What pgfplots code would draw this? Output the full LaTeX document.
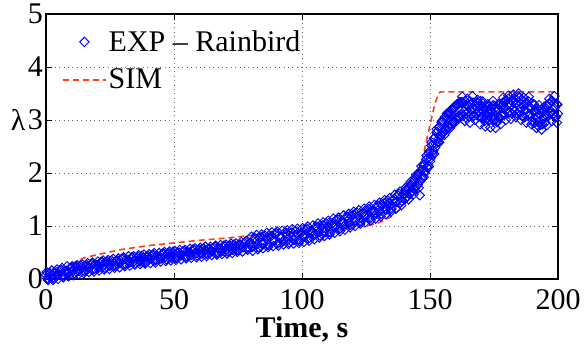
\documentclass[border=0pt]{standalone}
\usepackage{fontspec}
\setmainfont{Liberation Serif}
\usepackage{pgfplots}
\pgfplotsset{compat=1.18}
\definecolor{simred}{RGB}{255,60,15}
\definecolor{expblue}{RGB}{0,0,255}
\newcommand{\bigfont}{\fontsize{30bp}{34bp}\selectfont}
\newcommand{\legfont}{\fontsize{30bp}{34bp}\selectfont}
\pgfplotsset{
  expstyle/.style={only marks, mark=square, mark size=3.3bp, color=expblue, mark options={rotate=45, line width=0.95bp, fill=none}},
  explegend/.style={legend image code/.code={\draw[mark repeat=2,mark phase=2,##1] plot coordinates {(0bp,0bp)(21.5bp,0bp)(43bp,0bp)};}},
  simlegend/.style={legend image code/.code={\draw[##1] (0bp,0bp) -- (43bp,0bp);}},
}
\begin{document}
\begin{tikzpicture}
\begin{axis}[
  scale only axis,
  width=512bp, height=265bp,
  xmin=0, xmax=200, ymin=0, ymax=5,
  xtick={0,50,100,150,200},
  ytick={0,1,2,3,4,5},
  /pgf/number format/assume math mode=true,
  tick label style={font=\bigfont, inner sep=0pt},
  xticklabel style={yshift=-10bp},
  yticklabel style={xshift=-3bp},
  axis line style={line width=1.2bp, black},
  tick style={line width=0.8bp, black},
  major tick length=6bp,
  tick align=inside,
  grid=major,
  grid style={line width=0.6bp, color=black!60, dash pattern=on 0.8bp off 3.6bp},
  clip=false,
  xlabel={\textbf{Time, s}},
  xlabel style={font=\bigfont, inner sep=0pt, at={(axis description cs:0.5,-0.222)}, anchor=base},
  ylabel={λ},
  ylabel style={font=\bigfont, inner sep=0pt, rotate=-90, at={(axis description cs:-0.04,0.6)}, anchor=east},
  legend style={draw=none, fill=none, font=\legfont, at={(axis description cs:0.031,0.945)}, anchor=north west, inner sep=0pt, row sep=12bp, nodes={inner sep=2bp}},
  legend cell align=left,
]
\addplot[expstyle, explegend]
coordinates {
(0,0.08)(1,0.00)(2,0.08)(3,0.01)(4,0.13)(5,0.08)(6,0.17)(7,0.07)(8,0.15)(9,0.12)
(10,0.21)(11,0.11)(12,0.23)(13,0.15)(14,0.22)(15,0.15)(16,0.26)(17,0.21)(18,0.29)(19,0.19)
(20,0.26)(21,0.23)(22,0.32)(23,0.21)(24,0.33)(25,0.25)(26,0.32)(27,0.25)(28,0.35)(29,0.30)
(30,0.39)(31,0.29)(32,0.35)(33,0.32)(34,0.40)(35,0.30)(36,0.42)(37,0.33)(38,0.40)(39,0.32)
(40,0.43)(41,0.38)(42,0.46)(43,0.36)(44,0.42)(45,0.39)(46,0.48)(47,0.37)(48,0.49)(49,0.40)
(50,0.47)(51,0.40)(52,0.50)(53,0.45)(54,0.53)(55,0.43)(56,0.50)(57,0.46)(58,0.55)(59,0.44)
(60,0.56)(61,0.48)(62,0.54)(63,0.47)(64,0.57)(65,0.52)(66,0.61)(67,0.50)(68,0.57)(69,0.53)
(70,0.62)(71,0.52)(72,0.63)(73,0.55)(74,0.61)(75,0.54)(76,0.65)(77,0.60)(78,0.70)(79,0.60)
(80,0.68)(81,0.62)(82,0.76)(83,0.60)(84,0.79)(85,0.66)(86,0.76)(87,0.64)(88,0.81)(89,0.72)
(90,0.86)(91,0.69)(92,0.79)(93,0.73)(94,0.86)(95,0.69)(96,0.88)(97,0.74)(98,0.84)(99,0.72)
(100,0.88)(101,0.80)(102,0.94)(103,0.78)(104,0.89)(105,0.84)(106,0.98)(107,0.82)(108,1.01)(109,0.88)
(110,0.99)(111,0.88)(112,1.06)(113,0.98)(114,1.12)(115,0.96)(116,1.07)(117,1.03)(118,1.17)(119,1.02)
(120,1.21)(121,1.08)(122,1.19)(123,1.08)(124,1.26)(125,1.18)(126,1.32)(127,1.17)(128,1.28)(129,1.23)
(130,1.38)(131,1.23)(132,1.43)(133,1.31)(134,1.43)(135,1.32)(136,1.52)(137,1.45)(138,1.61)(139,1.47)
(140,1.60)(140.5,1.68)(141,1.55)(141.5,1.72)(142,1.60)(142.5,1.78)(143,1.65)(143.5,1.84)(144,1.70)(144.5,1.92)
(145,1.76)(145.5,1.97)(146,1.58)(146.5,2.05)(147,1.90)(147.5,2.14)(148,2.00)(148.5,2.25)(149,2.10)(149.5,2.37)
(150,2.22)(150.5,2.52)(151,2.36)(151.5,2.65)(152,2.48)(152.5,2.76)(153,2.58)(153.5,2.86)(154,2.68)(154.5,2.95)
(155,2.76)(155.5,3.02)(156,2.80)(156.5,3.06)(157,2.86)(157.5,3.12)(158,2.90)(158.5,3.18)(159,2.95)(159.5,3.22)
(160,3.02)(160.5,3.28)(161,3.05)(161.5,3.32)(162,3.10)(162.5,3.34)(163,3.08)(163.5,3.26)(164,3.05)(164.5,3.30)
(165,3.15)(165.5,3.35)(166,3.10)(166.5,3.22)(167,3.07)(167.5,3.28)(168,3.12)(168.5,3.34)(169,3.08)(169.5,3.26)
(170,3.05)(170.5,3.25)(171,3.10)(171.5,3.27)(172,3.02)(172.5,3.14)(173,2.99)(173.5,3.20)(174,3.04)(174.5,3.26)
(175,3.00)(175.5,3.18)(176,2.97)(176.5,3.22)(177,3.05)(177.5,3.30)(178,3.08)(178.5,3.27)(179,3.10)(179.5,3.35)
(180,3.20)(180.5,3.40)(181,3.15)(181.5,3.27)(182,3.12)(182.5,3.33)(183,3.17)(183.5,3.39)(184,3.13)(184.5,3.45)
(185,3.15)(185.5,3.31)(186,3.08)(186.5,3.26)(187,3.05)(187.5,3.30)(188,3.15)(188.5,3.35)(189,3.10)(189.5,3.22)
(190,3.00)(190.5,3.15)(191,2.95)(191.5,3.16)(192,2.90)(192.5,3.19)(193,2.97)(193.5,3.20)(194,2.92)(194.5,3.07)
(195,2.95)(195.5,3.28)(196,3.06)(196.5,3.30)(197,3.12)(197.5,3.36)(198,3.10)(198.5,3.22)(199,3.05)(199.5,3.30)
(200,3.12)
};
\addlegendentry{EXP -- Rainbird}
\addplot[expstyle, forget plot]
coordinates {
(0.5,0.01)(1.5,0.11)(2.5,0.02)(3.5,0.11)(4.5,0.08)(5.5,0.16)(6.5,0.06)(7.5,0.15)(8.5,0.10)(9.5,0.21)
(10.5,0.15)(11.5,0.22)(12.5,0.16)(13.5,0.26)(14.5,0.16)(15.5,0.24)(16.5,0.21)(17.5,0.28)(18.5,0.18)(19.5,0.27)
(20.5,0.21)(21.5,0.32)(22.5,0.25)(23.5,0.32)(24.5,0.26)(25.5,0.35)(26.5,0.25)(27.5,0.34)(28.5,0.31)(29.5,0.38)
(30.5,0.27)(31.5,0.36)(32.5,0.31)(33.5,0.41)(34.5,0.34)(35.5,0.40)(36.5,0.34)(37.5,0.44)(38.5,0.33)(39.5,0.42)
(40.5,0.38)(41.5,0.45)(42.5,0.35)(43.5,0.43)(44.5,0.38)(45.5,0.48)(46.5,0.41)(47.5,0.48)(48.5,0.41)(49.5,0.51)
(50.5,0.40)(51.5,0.49)(52.5,0.46)(53.5,0.52)(54.5,0.42)(55.5,0.50)(56.5,0.45)(57.5,0.56)(58.5,0.48)(59.5,0.55)
(60.5,0.48)(61.5,0.58)(62.5,0.48)(63.5,0.56)(64.5,0.53)(65.5,0.59)(66.5,0.49)(67.5,0.58)(68.5,0.52)(69.5,0.63)
(70.5,0.55)(71.5,0.62)(72.5,0.56)(73.5,0.65)(74.5,0.55)(75.5,0.64)(76.5,0.61)(77.5,0.68)(78.5,0.58)(79.5,0.67)
(80.5,0.60)(81.5,0.77)(82.5,0.66)(83.5,0.77)(84.5,0.67)(85.5,0.82)(86.5,0.65)(87.5,0.79)(88.5,0.73)(89.5,0.84)
(90.5,0.67)(91.5,0.80)(92.5,0.71)(93.5,0.88)(94.5,0.76)(95.5,0.86)(96.5,0.75)(97.5,0.90)(98.5,0.73)(99.5,0.87)
(100.5,0.81)(101.5,0.92)(102.5,0.76)(103.5,0.90)(104.5,0.82)(105.5,0.99)(106.5,0.88)(107.5,0.99)(108.5,0.89)(109.5,1.05)
(110.5,0.89)(111.5,1.03)(112.5,0.98)(113.5,1.10)(114.5,0.94)(115.5,1.08)(116.5,1.00)(117.5,1.18)(118.5,1.07)(119.5,1.19)
(120.5,1.09)(121.5,1.25)(122.5,1.09)(123.5,1.23)(124.5,1.19)(125.5,1.30)(126.5,1.14)(127.5,1.29)(128.5,1.21)(129.5,1.39)
(130.5,1.28)(131.5,1.40)(132.5,1.31)(133.5,1.48)(134.5,1.33)(135.5,1.48)(136.5,1.45)(137.5,1.58)(138.5,1.44)(139.5,1.60)
(140.25,1.51)(140.75,1.66)(141.25,1.56)(141.75,1.74)(142.25,1.62)(142.75,1.77)(143.25,1.66)(143.75,1.86)(144.25,1.73)(144.75,1.90)
(145.25,1.79)(145.75,1.99)(146.25,1.85)(146.75,2.06)(147.25,1.94)(147.75,2.16)(148.25,2.04)(148.75,2.26)(149.25,2.14)(149.75,2.41)
(150.25,2.28)(150.75,2.52)(151.25,2.42)(151.75,2.66)(152.25,2.55)(152.75,2.78)(153.25,2.64)(153.75,2.88)(154.25,2.72)(154.75,2.97)
(155.25,2.78)(155.75,3.05)(156.25,2.83)(156.75,3.10)(157.25,2.88)(157.75,3.15)(158.25,2.93)(158.75,3.22)(159.25,2.98)(159.75,3.26)
(160.25,3.04)(160.75,3.30)(161.25,3.08)(161.75,3.34)(162.25,3.10)(162.75,3.32)(163.25,3.16)(163.75,3.36)(164.25,3.12)(164.75,3.26)
(165.25,3.06)(165.75,3.29)(166.25,3.18)(166.75,3.33)(167.25,3.09)(167.75,3.25)(168.25,3.10)(168.75,3.32)(169.25,3.16)(169.75,3.36)
(170.25,3.04)(170.75,3.18)(171.25,2.98)(171.75,3.21)(172.25,3.10)(172.75,3.25)(173.25,3.01)(173.75,3.17)(174.25,3.08)(174.75,3.28)
(175.25,3.04)(175.75,3.24)(176.25,2.96)(176.75,3.18)(177.25,3.04)(177.75,3.25)(178.25,3.11)(178.75,3.34)(179.25,3.23)(179.75,3.38)
(180.25,3.14)(180.75,3.30)(181.25,3.15)(181.75,3.37)(182.25,3.21)(182.75,3.41)(183.25,3.17)(183.75,3.31)(184.25,3.11)(184.75,3.42)
(185.25,3.23)(185.75,3.38)(186.25,3.06)(186.75,3.29)(187.25,3.18)(187.75,3.33)(188.25,3.09)(188.75,3.25)(189.25,3.10)(189.75,3.32)
(190.25,2.95)(190.75,3.17)(191.25,3.01)(191.75,3.21)(192.25,2.97)(192.75,3.11)(193.25,2.91)(193.75,3.14)(194.25,3.03)(194.75,3.18)
(195.25,3.09)(195.75,3.25)(196.25,3.10)(196.75,3.32)(197.25,3.16)(197.75,3.36)(198.25,3.12)(198.75,3.26)(199.25,3.06)(199.75,3.29)
};
\addplot[expstyle, forget plot]
coordinates {
(0.25,0.13)(2.25,0.16)(4.25,0.18)(6.25,0.21)(8.25,0.24)(10.25,0.24)(12.25,0.26)(14.25,0.27)(16.25,0.30)(18.25,0.31)
(20.25,0.33)(22.25,0.35)(24.25,0.36)(26.25,0.38)(28.25,0.39)(30.25,0.41)(32.25,0.43)(34.25,0.43)(36.25,0.45)(38.25,0.46)
(40.25,0.47)(42.25,0.49)(44.25,0.49)(46.25,0.51)(48.25,0.52)(50.25,0.53)(52.25,0.55)(54.25,0.55)(56.25,0.57)(58.25,0.58)
(60.25,0.59)(62.25,0.61)(64.25,0.61)(66.25,0.63)(68.25,0.64)(70.25,0.65)(72.25,0.67)(74.25,0.67)(76.25,0.70)(78.25,0.72)
(80.25,0.80)(82.25,0.83)(84.25,0.84)(86.25,0.87)(88.25,0.88)(90.25,0.90)(92.25,0.91)(94.25,0.92)(96.25,0.94)(98.25,0.95)
(100.25,0.96)(102.25,0.99)(104.25,1.01)(106.25,1.05)(108.25,1.07)(110.25,1.10)(112.25,1.14)(114.25,1.16)(116.25,1.20)(118.25,1.23)
(120.25,1.27)(122.25,1.30)(124.25,1.33)(126.25,1.37)(128.25,1.40)(130.25,1.44)(132.25,1.49)(134.25,1.53)(136.25,1.59)(138.25,1.65)
(0.75,-0.02)(2.75,-0.02)(4.75,0.00)(6.75,0.03)(8.75,0.05)(10.75,0.07)(12.75,0.09)(14.75,0.11)(16.75,0.13)(18.75,0.14)
(20.75,0.16)(22.75,0.18)(24.75,0.19)(26.75,0.21)(28.75,0.22)(30.75,0.24)(32.75,0.25)(34.75,0.27)(36.75,0.28)(38.75,0.29)
(40.75,0.30)(42.75,0.31)(44.75,0.33)(46.75,0.34)(48.75,0.35)(50.75,0.36)(52.75,0.37)(54.75,0.39)(56.75,0.40)(58.75,0.41)
(60.75,0.42)(62.75,0.43)(64.75,0.45)(66.75,0.46)(68.75,0.47)(70.75,0.48)(72.75,0.49)(74.75,0.51)(76.75,0.52)(78.75,0.55)
(80.75,0.53)(82.75,0.56)(84.75,0.58)(86.75,0.60)(88.75,0.62)(90.75,0.63)(92.75,0.65)(94.75,0.66)(96.75,0.67)(98.75,0.68)
(100.75,0.70)(102.75,0.72)(104.75,0.75)(106.75,0.78)(108.75,0.81)(110.75,0.84)(112.75,0.87)(114.75,0.90)(116.75,0.93)(118.75,0.97)
(120.75,1.00)(122.75,1.04)(124.75,1.07)(126.75,1.10)(128.75,1.14)(130.75,1.18)(132.75,1.22)(134.75,1.27)(136.75,1.33)(138.75,1.39)
(140.6,1.73)(141.6,1.50)(142.6,1.84)(143.6,1.60)(144.6,1.96)(145.6,1.72)(146.6,2.13)(147.6,1.92)(148.6,2.33)(149.6,2.12)
(150.6,2.58)(151.6,2.36)(152.6,2.83)(153.6,2.58)(154.6,2.98)(155.6,2.72)(156.6,3.12)(157.6,2.84)(158.6,3.20)(159.6,2.95)
(160.6,3.30)(161.6,3.04)(162.6,3.44)(163.6,2.98)(164.6,3.40)(165.6,2.95)(166.6,3.45)(167.6,3.00)(168.6,3.38)(169.6,2.92)
(170.6,3.35)(171.6,2.88)(172.6,3.30)(173.6,2.86)(174.6,3.36)(175.6,2.85)(176.6,3.30)(177.6,2.92)(178.6,3.42)(179.6,3.00)
(180.6,3.46)(181.6,3.02)(182.6,3.48)(183.6,3.05)(184.6,3.50)(185.6,3.00)(186.6,3.42)(187.6,2.95)(188.6,3.44)(189.6,2.92)
(190.6,3.30)(191.6,2.85)(192.6,3.28)(193.6,2.82)(194.6,3.25)(195.6,2.90)(196.6,3.40)(197.6,2.98)(198.6,3.45)(199.6,2.95)
};
\addplot[color=simred, line width=1.6bp, dash pattern=on 6bp off 4bp, simlegend]
coordinates {
(0,0)(3,0.05)(6,0.12)(9,0.25)(12,0.34)(15,0.40)(20,0.46)(25,0.51)(30,0.56)(40,0.63)
(50,0.68)(60,0.73)(70,0.77)(80,0.82)(90,0.86)(100,0.89)(110,0.92)(115,0.94)(120,0.97)(125,1.00)
(130,1.06)(135,1.18)(138,1.30)(140,1.45)(143,1.70)(145,1.90)(147,2.25)(148.5,2.58)(150,2.90)(151,3.12)
(152,3.32)(153,3.46)(154,3.53)(160,3.53)(170,3.53)(180,3.53)(190,3.53)(200,3.53)
};
\addlegendentry{SIM}
\end{axis}
\pgfresetboundingbox
\path (current axis.south west) +(-46bp,-70bp) (current axis.north east) +(26bp,14bp);
\end{tikzpicture}
\end{document}
